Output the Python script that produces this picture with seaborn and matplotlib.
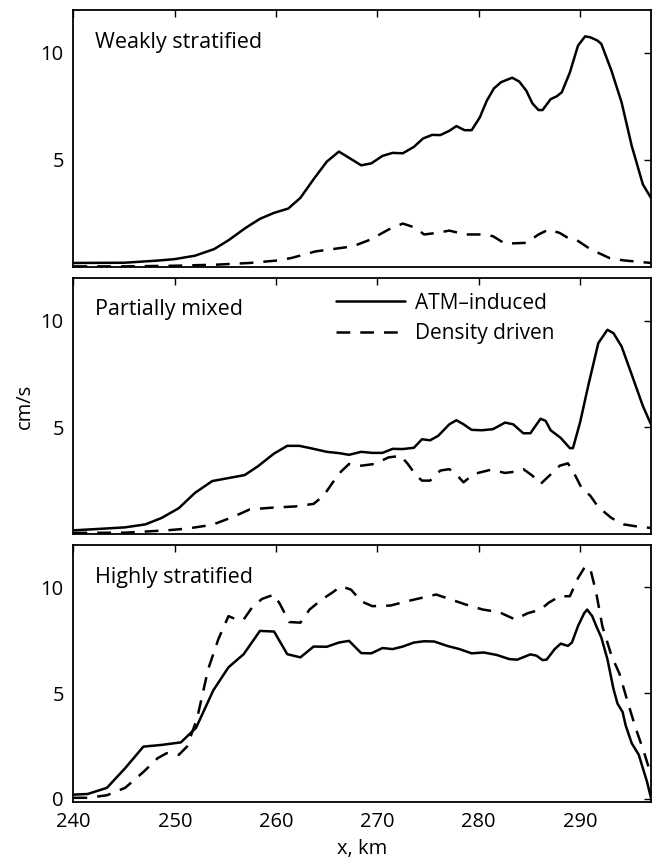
import numpy as np
import pandas as pd
import matplotlib
matplotlib.use("Agg")
import matplotlib.pyplot as plt
import seaborn as sns

# Panel names and series names
panels = ["Weakly stratified", "Partially mixed", "Highly stratified"]
kinds = ["ATM\u2013induced", "Density driven"]

# Weakly stratified
weak_atm_x = [240, 245, 248.3, 250, 252, 253.9, 255.3, 257, 258.4, 259.8, 261.2, 262.4, 263.7, 265,
              266.2, 267.2, 268.4, 269.4, 270.5, 271.5, 272.5, 273.6, 274.5, 275.4, 276.2, 277.1,
              277.8, 278.6, 279.3, 280.1, 280.8, 281.5, 282.2, 283.3, 284, 284.7, 285.3, 285.9,
              286.3, 287.1, 287.7, 288.2, 289, 289.8, 290.5, 291, 291.7, 292.1, 293.1, 294.1,
              295.1, 296.2, 297]
weak_atm_v = [0.19, 0.2, 0.3, 0.37, 0.53, 0.84, 1.25, 1.83, 2.25, 2.53, 2.73, 3.23, 4.1, 4.92,
              5.39, 5.1, 4.75, 4.84, 5.19, 5.33, 5.31, 5.61, 6.0, 6.17, 6.16, 6.36,
              6.58, 6.39, 6.39, 6.98, 7.77, 8.34, 8.63, 8.84, 8.66, 8.23, 7.64, 7.33,
              7.33, 7.84, 7.97, 8.16, 9.09, 10.34, 10.77, 10.73, 10.58, 10.42, 9.17, 7.69,
              5.66, 3.86, 3.23]
weak_den_x = [240, 245, 250, 254.1, 257.4, 260, 261.5, 263.9, 266.4, 267.6, 269.3, 271.1, 272.5,
              273.8, 274.6, 275.8, 277.1, 278.7, 280.4, 281.4, 282.6, 284.7, 285.9, 286.9, 288,
              288.8, 289.6, 291, 292.9, 294.3, 297]
weak_den_v = [0.03, 0.03, 0.06, 0.11, 0.19, 0.3, 0.42, 0.73, 0.89, 0.97, 1.28, 1.75, 2.03,
              1.83, 1.52, 1.59, 1.7, 1.52, 1.52, 1.44, 1.09, 1.13, 1.52, 1.75, 1.59,
              1.36, 1.28, 0.84, 0.42, 0.31, 0.19]

# Partially mixed
mixed_atm_x = [240, 243, 245.1, 247.1, 248.7, 250.4, 252, 253.7, 255.3, 256.9, 258.2, 259.8, 261.1,
               262.3, 263.5, 265, 266.2, 267.2, 268.4, 269.5, 270.5, 271.5, 272.5, 273.6, 274.4,
               275.2, 276, 277.1, 277.8, 278.5, 279.3, 280.3, 281.4, 282.6, 283.4, 284.4, 285.1,
               286.1, 286.6, 287.1, 288.1, 289, 289.3, 290, 290.8, 291.8, 292.7, 293.3, 294.1,
               295.1, 296.2, 297]
mixed_atm_v = [0.17, 0.25, 0.31, 0.45, 0.75, 1.21, 1.93, 2.48, 2.62, 2.76, 3.17, 3.77, 4.13,
               4.13, 4.01, 3.85, 3.79, 3.71, 3.85, 3.8, 3.8, 3.99, 3.98, 4.04, 4.44,
               4.39, 4.6, 5.14, 5.33, 5.14, 4.88, 4.86, 4.91, 5.22, 5.14, 4.72, 4.72,
               5.4, 5.3, 4.86, 4.5, 4.02, 4.02, 5.22, 6.93, 8.94, 9.57, 9.41, 8.79,
               7.47, 6.0, 5.14]
mixed_den_x = [240, 245.1, 249.2, 251.2, 253.7, 255.7, 257.4, 259.8, 261.9, 263.7, 264.7, 265.6,
               266.4, 267.2, 268.4, 269.7, 271.1, 272.3, 273, 273.8, 274.4, 275.2, 276.2, 277.1,
               277.9, 278.5, 279.5, 281.2, 282.6, 283.6, 284.4, 285.3, 286.1, 286.9, 288, 288.8,
               289.4, 290.2, 291, 291.8, 293.1, 294.3, 295.5, 297]
mixed_den_v = [0.05, 0.06, 0.17, 0.25, 0.43, 0.79, 1.15, 1.24, 1.29, 1.41, 1.8, 2.42,
               2.92, 3.28, 3.2, 3.28, 3.59, 3.66, 3.28, 2.76, 2.5, 2.5, 2.97, 3.04,
               2.73, 2.42, 2.81, 3.01, 2.86, 2.92, 3.04, 2.73, 2.34, 2.7, 3.2, 3.31,
               2.86, 2.11, 1.8, 1.26, 0.75, 0.45, 0.36, 0.28]

# Highly stratified
high_atm_x = [240, 241.4, 243.3, 245.1, 246.9, 248.7, 250.6, 252.1, 253.8, 255.3, 256.8, 258.4,
              259.8, 261.1, 262.4, 263.7, 265, 266.2, 267.2, 268.4, 269.4, 270.5, 271.5, 272.5,
              273.6, 274.6, 275.6, 276.9, 278.1, 279.3, 280.5, 281.8, 283, 283.8, 285.1, 285.7,
              286.3, 286.7, 287.5, 288.1, 288.8, 289.2, 289.8, 290.4, 290.7, 291.2, 291.6, 292.1,
              292.7, 293.3, 293.7, 294.2, 294.5, 295.1, 295.8, 296.2, 296.6, 297]
high_atm_v = [0.2, 0.23, 0.52, 1.45, 2.47, 2.55, 2.67, 3.36, 5.13, 6.22, 6.84, 7.94,
              7.91, 6.84, 6.69, 7.2, 7.19, 7.39, 7.47, 6.89, 6.88, 7.13, 7.08, 7.2,
              7.39, 7.45, 7.44, 7.23, 7.08, 6.88, 6.92, 6.8, 6.61, 6.58, 6.83, 6.77,
              6.56, 6.58, 7.08, 7.34, 7.23, 7.39, 8.17, 8.77, 8.95, 8.64, 8.17, 7.63,
              6.61, 5.2, 4.5, 4.11, 3.48, 2.63, 2.08, 1.45, 0.83, 0.05]
high_den_x = [240, 241.4, 243.3, 245.1, 246.9, 248.3, 249.2, 250.4, 251.2, 252.2, 253.3, 254.3,
              255.3, 256.1, 256.8, 257.6, 258.6, 259.8, 260.4, 261.3, 262.4, 263.3, 264.5, 265.6,
              266.4, 267.4, 268.4, 269.5, 271.3, 272.9, 274.6, 275.8, 277.1, 278.7, 280.4, 282,
              283.6, 284.8, 286.1, 286.9, 288, 289, 289.8, 290.5, 291, 291.6, 292.2, 293.1,
              293.9, 294.7, 295.5, 296.3, 297]
high_den_v = [0.05, 0.05, 0.17, 0.52, 1.27, 1.92, 2.16, 2.08, 2.47, 3.8, 6.14, 7.55,
              8.64, 8.48, 8.48, 9.03, 9.45, 9.66, 9.19, 8.36, 8.33, 8.95, 9.42, 9.77,
              10.05, 9.89, 9.34, 9.11, 9.14, 9.34, 9.53, 9.66, 9.45, 9.19, 8.95, 8.83,
              8.48, 8.77, 8.95, 9.27, 9.58, 9.58, 10.44, 10.98, 10.91, 9.73, 8.17, 6.77,
              5.91, 4.58, 3.33, 2.23, 1.14]

series = [
    (weak_atm_x, weak_atm_v, weak_den_x, weak_den_v),
    (mixed_atm_x, mixed_atm_v, mixed_den_x, mixed_den_v),
    (high_atm_x, high_atm_v, high_den_x, high_den_v),
]

sns.set_style("white")
plt.rcParams["font.family"] = ["Open Sans", "DejaVu Sans"]
plt.rcParams["font.size"] = 14.5
plt.rcParams["text.color"] = "k"
plt.rcParams["axes.labelcolor"] = "k"

fig = plt.figure(figsize=(6.52, 8.65), dpi=100)
boxes = [
    [0.1127, 0.6913, 0.8857, 0.2971],
    [0.1127, 0.3827, 0.8857, 0.2960],
    [0.1127, 0.0728, 0.8857, 0.2971],
]

for i, (name, s) in enumerate(zip(panels, series)):
    ax = fig.add_axes(boxes[i])
    df = pd.concat([
        pd.DataFrame({"x": s[0], "v": s[1], "kind": kinds[0]}),
        pd.DataFrame({"x": s[2], "v": s[3], "kind": kinds[1]}),
    ])
    sns.lineplot(data=df, x="x", y="v", style="kind", style_order=kinds,
                 dashes={kinds[0]: "", kinds[1]: (5.5, 4)},
                 color="k", linewidth=1.8, ax=ax, legend=False)
    ax.set_xlim(240, 297)
    ax.set_xticks([240, 250, 260, 270, 280, 290])
    if i < 2:
        ax.set_ylim(0, 12)
        ax.set_yticks([5, 10])
        ax.tick_params(axis="x", labelbottom=False)
        ax.set_xlabel("")
    else:
        ax.set_ylim(-0.15, 12)
        ax.set_yticks([0, 5, 10])
        ax.set_xlabel("x, km", fontsize=14.5, labelpad=5)
    ax.set_ylabel("cm/s" if i == 1 else "", fontsize=14.5, labelpad=4)
    ax.tick_params(direction="in", length=5, width=1, top=True, right=True,
                   labelsize=14.5, pad=7, colors="k")
    for sp in ax.spines.values():
        sp.set_visible(True)
        sp.set_color("k")
        sp.set_linewidth(1.3)
    ax.text(0.037, 0.875, name, transform=ax.transAxes, fontsize=15.5,
            ha="left", va="center")
    if i == 1:
        ax.legend(ax.lines[:2], kinds, loc="upper left", bbox_to_anchor=(0.44, 0.975),
                  frameon=False, fontsize=15, handlelength=3.3, handletextpad=0.5,
                  labelspacing=0.45, borderaxespad=0)

fig.savefig("out.png", dpi=100, facecolor="white")
